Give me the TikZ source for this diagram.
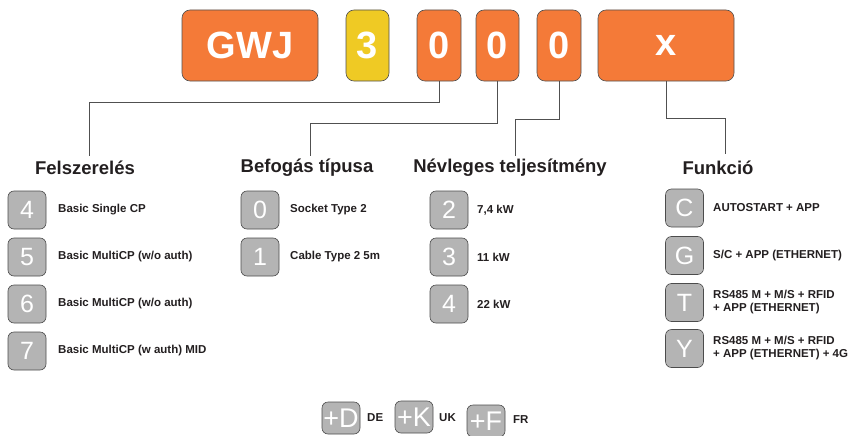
\documentclass[tikz,border=0pt]{standalone}
\usepackage{fontspec}
\setmainfont{Liberation Sans}
\definecolor{gworange}{HTML}{F47A38}
\definecolor{gwyellow}{HTML}{EFCA24}
\definecolor{gwgrey}{HTML}{B4B4B4}
\definecolor{gwline}{HTML}{505050}
\definecolor{gwtext}{HTML}{231F20}

\begin{document}
\begin{tikzpicture}[x=1pt,y=-1pt,
    codebox/.style={draw=gwline, line width=0.6pt, rounded corners=8pt, fill=gworange,
      text=white, font=\fontsize{38}{38}\selectfont\bfseries, inner sep=0pt,
      minimum height=71pt},
    optbox/.style={draw=gray!60!black, line width=0.6pt, fill=gwgrey, rounded corners=6pt,
      minimum width=38pt, minimum height=38pt, inner sep=0pt, text=white,
      font=\fontsize{25}{25}\selectfont},
    langbox/.style={optbox, minimum height=32pt, font=\fontsize{27}{27}\selectfont},
    heading/.style={font=\fontsize{18.5}{19}\selectfont\bfseries, text=gwtext},
    item/.style={anchor=west, font=\fontsize{11.5}{13}\selectfont\bfseries, text=gwtext,
      align=left, inner sep=0pt},
    link/.style={draw=gwline, line width=1pt}]
    \useasboundingbox (0,0) rectangle (856,436);

    % code boxes
    \node[codebox, minimum width=136pt] (gwj) at (250,45.5) {GWJ};
    \node[codebox, fill=gwyellow, minimum width=43pt] (d0) at (367.5,45.5) {3};
    \node[codebox, minimum width=44pt] (d1) at (439,45.5) {0};
    \node[codebox, minimum width=43pt] (d2) at (497.5,45.5) {0};
    \node[codebox, minimum width=44pt] (d3) at (559,45.5) {0};
    \node[codebox, minimum width=136pt] (fx) at (666,45.5) {x};

    % headings
    \node[heading] (hfel) at (85,168) {Felszerelés};
    \node[heading] (hbef) at (307,168) {Befogás típusa};
    \node[heading] (hnev) at (510,168) {Névleges teljesítmény};
    \node[heading] (hfun) at (718,168) {Funkció};

    \coordinate (e1) at (89,156);
    \coordinate (e2) at (310,156);
    \coordinate (e3) at (515,156);
    \coordinate (e4) at (725,154);

    % connectors
    \draw[link] (d1.south) -- ++(0,21) -| (e1);
    \draw[link] (d2.south) -- ++(0,42) -| (e2);
    \draw[link] (d3.south) -- ++(0,38) -| (e3);
    \draw[link] (fx.south) -- ++(0,37) -| (e4);

    % Felszereles
    \foreach \k/\txt [count=\i from 0] in {4/{Basic Single CP}, 5/{Basic MultiCP (w/o auth)},
        6/{Basic MultiCP (w/o auth)}, 7/{Basic MultiCP (w auth) MID}}{
      \node[optbox] (fel\k) at (27,210+47*\i) {\k};
      \node[item] (felt\k) at (58,210+47*\i) {\txt};
    }

    % Befogas tipusa
    \foreach \k/\txt [count=\i from 0] in {0/{Socket Type 2}, 1/{Cable Type 2 5m}}{
      \node[optbox] (bef\k) at (260,210+47*\i) {\k};
      \node[item] (beft\k) at (290,210+47*\i) {\txt};
    }

    % Nevleges teljesitmeny
    \foreach \k/\txt [count=\i from 0] in {2/{7,4 kW}, 3/{11 kW}, 4/{22 kW}}{
      \node[optbox] (nev\k) at (449,210+47*\i) {\k};
      \node[item] (nevt\k) at (477,210+47*\i) {\txt};
    }

    % Funkcio
    \node[optbox] (funC) at (684.5,208) {C};
    \node[item] (funtC) at (713,208) {AUTOSTART + APP};
    \node[optbox] (funG) at (684.5,255.5) {G};
    \node[item] (funtG) at (713,255.5) {S/C + APP (ETHERNET)};
    \node[optbox] (funT) at (684.5,302.5) {T};
    \node[item] (funtT) at (713,302.5) {RS485 M + M/S + RFID\\+ APP (ETHERNET)};
    \node[optbox] (funY) at (684.5,348.5) {Y};
    \node[item] (funtY) at (713,348.5) {RS485 M + M/S + RFID\\+ APP (ETHERNET) + 4G};

    % plug variants
    \node[langbox] (lD) at (341,418) {+D};
    \node[item] (ltD) at (367,418) {DE};
    \node[langbox] (lK) at (414,417) {+K};
    \node[item] (ltK) at (439,418) {UK};
    \node[langbox] (lF) at (486,421) {+F};
    \node[item] (ltF) at (513,420) {FR};
\end{tikzpicture}
\end{document}
